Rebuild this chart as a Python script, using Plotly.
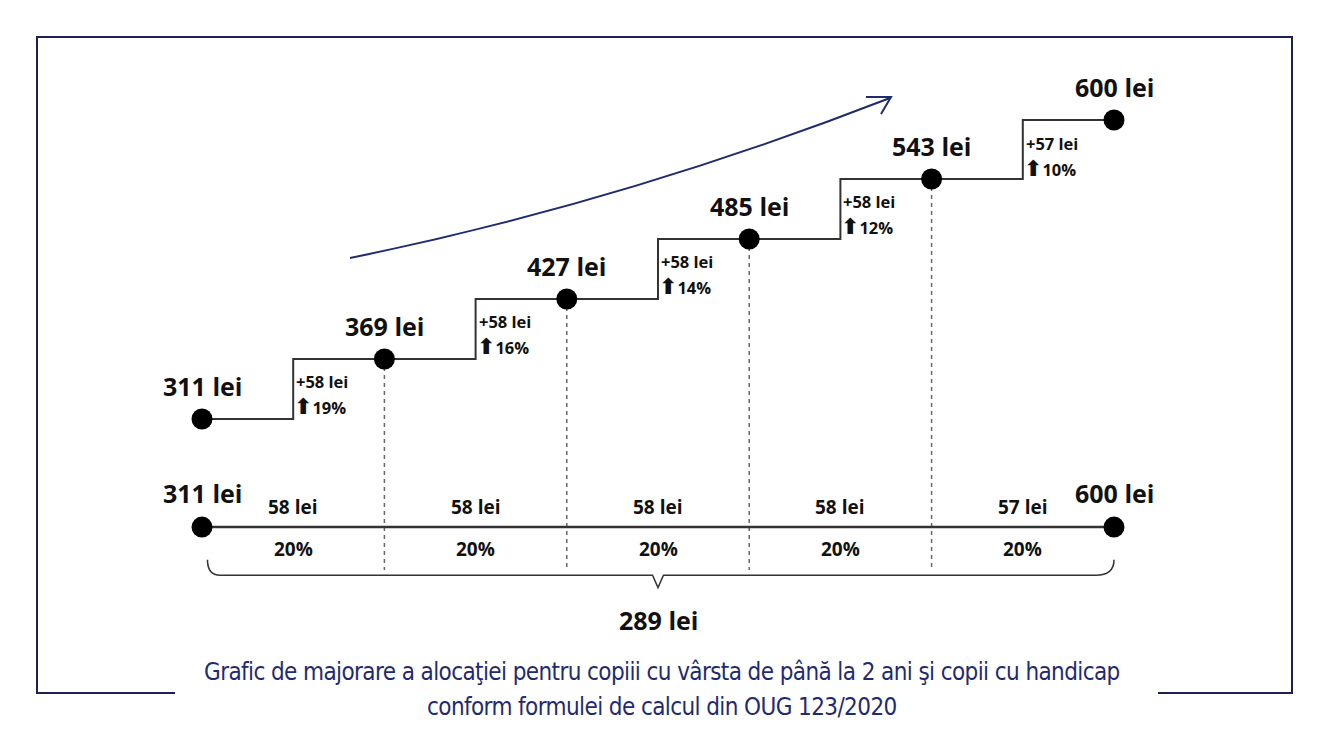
import plotly.graph_objects as go

# chart data
steps = [0, 1, 2, 3, 4, 5]
amounts = [311, 369, 427, 485, 543, 600]
increments = [58, 58, 58, 58, 57]
increment_pct = [19, 16, 14, 12, 10]
segment_lei = [58, 58, 58, 58, 57]
segment_pct = [20, 20, 20, 20, 20]
total_increase = 289
caption = ["Grafic de majorare a alocaţiei pentru copiii cu vârsta de până la 2 ani şi copii cu handicap",
           "conform formulei de calcul din OUG 123/2020"]

# page body has an 8px margin, so the figure is a bit smaller than the window
OFF = 8
W, H = 1332 - 2 * OFF, 750 - 2 * OFF
BASE = 206.5  # level of the lower timeline (data units)
NAVY = "#1f2b6e"
INK = "#111111"
FONT = "Open Sans"
ARROW = "<span style='font-family:DejaVu Sans;font-size:22px'><b>⬆</b></span>"


def px(x):
    return (x - OFF) / W


def py(y):
    return 1 - (y - OFF) / H


fig = go.Figure()

# dashed drop lines from intermediate points (drawn first, under the dots)
for s, a in zip(steps[1:-1], amounts[1:-1]):
    fig.add_trace(go.Scatter(x=[s, s], y=[a, 165], mode="lines",
                             line=dict(color="#666666", width=1.5, dash="4px,4px"),
                             hoverinfo="skip"))

# stepped line with points
fig.add_trace(go.Scatter(x=steps, y=amounts, mode="lines+markers",
                         line=dict(shape="hvh", color="#333333", width=2),
                         marker=dict(size=21, color="black"),
                         hoverinfo="skip"))

# lower timeline
fig.add_trace(go.Scatter(x=[steps[0], steps[-1]], y=[BASE, BASE], mode="lines+markers",
                         line=dict(color="#333333", width=2.5),
                         marker=dict(size=21, color="black"), hoverinfo="skip"))

ann = []
for s, a in zip(steps, amounts):
    ann.append(dict(x=s, y=a, text=f"<b>{a} lei</b>", yshift=33,
                    font=dict(size=25, color=INK)))

for i, (inc, pct) in enumerate(zip(increments, increment_pct)):
    mid = (steps[i] + steps[i + 1]) / 2
    top = amounts[i + 1]
    ann.append(dict(x=mid, y=top, text=f"<b>+{inc} lei</b>", xanchor="left",
                    xshift=1, yshift=-23, font=dict(size=16.5, color=INK)))
    ann.append(dict(x=mid, y=top, text=f"{ARROW}<b>{pct}%</b>",
                    xanchor="left", xshift=-1, yshift=-48, font=dict(size=16.5, color=INK)))

# lower timeline labels
ann.append(dict(x=steps[0], y=BASE, text=f"<b>{amounts[0]} lei</b>", yshift=34,
                font=dict(size=25, color=INK)))
ann.append(dict(x=steps[-1], y=BASE, text=f"<b>{amounts[-1]} lei</b>", yshift=34,
                font=dict(size=25, color=INK)))
for i, (lei, pct) in enumerate(zip(segment_lei, segment_pct)):
    mid = (steps[i] + steps[i + 1]) / 2
    ann.append(dict(x=mid, y=BASE, text=f"<b>{lei} lei</b>", yshift=20,
                    font=dict(size=19, color=INK)))
    ann.append(dict(x=mid, y=BASE, text=f"<b>{pct}%</b>", yshift=-22,
                    font=dict(size=19, color=INK)))

mid_all = (steps[0] + steps[-1]) / 2
ann.append(dict(x=mid_all, y=BASE, text=f"<b>{total_increase} lei</b>", yshift=-93,
                font=dict(size=25, color=INK)))

# caption (condensed face, slightly tightened)
for k, line in enumerate(caption):
    ann.append(dict(x=px(662), y=py(672 + 35 * k), xref="paper", yref="paper",
                    yanchor="middle",
                    text=f"<span style='font-stretch:condensed;letter-spacing:-0.6px'>{line}</span>",
                    font=dict(size=24, color=NAVY, family="DejaVu Sans")))

for a in ann:
    a.setdefault("xref", "x")
    a.setdefault("yref", "y")
    a["showarrow"] = False

shapes = []
# frame with a gap for the caption
frame = (f"M {px(175)},{py(693)} L {px(37)},{py(693)} L {px(37)},{py(37)} "
         f"L {px(1292)},{py(37)} L {px(1292)},{py(693)} L {px(1158)},{py(693)}")
shapes.append(dict(type="path", xref="paper", yref="paper", path=frame,
                   line=dict(color="#1c2250", width=2)))

# brace under the timeline
brace = (f"M {steps[0] + 0.03},175 Q {steps[0] + 0.03},160 {steps[0] + 0.1},160 "
         f"L {mid_all - 0.03},160 L {mid_all},148 L {mid_all + 0.03},160 "
         f"L {steps[-1] - 0.1},160 Q {steps[-1]},160 {steps[-1]},175")
shapes.append(dict(type="path", xref="x", yref="y", path=brace,
                   line=dict(color="#333333", width=1.5)))

# trend arrow
curve = f"M {px(350)},{py(258)} Q {px(620)},{py(203)} {px(890)},{py(98)}"
shapes.append(dict(type="path", xref="paper", yref="paper", path=curve,
                   line=dict(color=NAVY, width=2)))
head = f"M {px(866)},{py(97)} L {px(891)},{py(97)} L {px(881)},{py(114)}"
shapes.append(dict(type="path", xref="paper", yref="paper", path=head,
                   line=dict(color=NAVY, width=2)))

fig.update_layout(
    width=W, height=H,
    margin=dict(l=0, r=0, t=0, b=0),
    plot_bgcolor="white", paper_bgcolor="white",
    showlegend=False,
    font=dict(family=FONT, color=INK),
    xaxis=dict(range=[-(202 - OFF) / 182.4, (W - 202 + OFF) / 182.4], visible=False, fixedrange=True),
    yaxis=dict(range=[311 - (H - 419 + OFF) / 1.0346, 311 + (419 - OFF) / 1.0346],
               visible=False, fixedrange=True),
    annotations=ann,
    shapes=shapes,
)

fig.write_html("out.html")
